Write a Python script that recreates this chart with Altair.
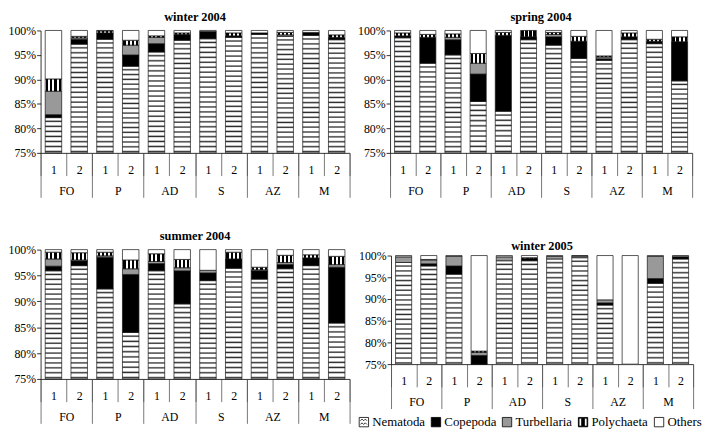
import altair as alt

# ---------------- data ----------------
SITES = ["FO", "P", "AD", "S", "AZ", "M"]
REPS = ["1", "2"]
CATS = ["Nematoda", "Copepoda", "Turbellaria", "Polychaeta", "Others"]
TITLES = ["winter 2004", "spring 2004", "summer 2004", "winter 2005"]

# order of bars: FO1 FO2 P1 P2 AD1 AD2 S1 S2 AZ1 AZ2 M1 M2  (percent)
W04_NEM = [82.2, 97.2, 98.2, 92.7, 95.6, 98.0, 98.3, 98.6, 99.2, 98.8, 99.0, 98.1]
W04_COP = [0.6, 1.0, 1.3, 2.3, 1.7, 1.2, 1.5, 0.3, 0.3, 0.0, 0.6, 0.5]
W04_TUR = [4.8, 0.3, 0.0, 2.0, 1.3, 0.0, 0.0, 0.0, 0.0, 0.3, 0.0, 0.0]
W04_POL = [2.5, 0.3, 0.4, 1.0, 0.3, 0.3, 0.0, 0.6, 0.0, 0.5, 0.0, 0.5]
W04_OTH = [9.9, 1.2, 0.1, 2.0, 1.1, 0.5, 0.2, 0.5, 0.5, 0.4, 0.4, 0.9]

S04_NEM = [98.5, 93.3, 95.0, 85.5, 83.5, 98.1, 97.0, 94.3, 93.9, 98.1, 97.3, 89.7]
S04_COP = [0.4, 5.3, 3.1, 5.6, 15.5, 0.6, 1.7, 3.5, 0.3, 0.6, 0.5, 8.0]
S04_TUR = [0.0, 0.0, 0.5, 2.2, 0.0, 0.0, 0.5, 0.0, 0.4, 0.0, 0.0, 0.0]
S04_POL = [0.6, 0.6, 0.7, 2.0, 0.6, 1.3, 0.4, 1.0, 0.2, 0.8, 0.4, 1.0]
S04_OTH = [0.5, 0.8, 0.7, 4.7, 0.4, 0.0, 0.4, 1.2, 5.2, 0.5, 1.8, 1.3]

U04_NEM = [95.9, 96.9, 92.4, 84.0, 95.9, 89.5, 94.0, 96.4, 94.3, 96.3, 96.9, 85.8]
U04_COP = [0.9, 0.9, 6.1, 11.2, 1.4, 6.4, 1.5, 1.8, 1.6, 0.8, 1.5, 10.8]
U04_TUR = [1.4, 0.2, 0.3, 1.1, 0.4, 0.6, 0.5, 0.0, 0.2, 0.4, 0.0, 0.5]
U04_POL = [1.3, 1.4, 0.7, 1.7, 1.5, 1.6, 0.0, 1.3, 0.5, 1.4, 0.6, 1.6]
U04_OTH = [0.5, 0.6, 0.5, 2.0, 0.8, 1.9, 4.0, 0.5, 3.4, 1.1, 1.0, 1.3]

W05_NEM = [98.4, 97.6, 95.7, 74.0, 98.8, 98.8, 99.2, 99.5, 88.6, 0.0, 93.6, 99.2]
W05_COP = [0.0, 0.5, 1.9, 3.0, 0.0, 0.5, 0.0, 0.0, 0.5, 0.0, 1.1, 0.5]
W05_TUR = [1.3, 0.9, 2.2, 0.7, 0.9, 0.0, 0.6, 0.4, 0.7, 0.0, 5.1, 0.3]
W05_POL = [0.0, 0.1, 0.0, 0.3, 0.0, 0.2, 0.0, 0.0, 0.0, 0.0, 0.0, 0.0]
W05_OTH = [0.3, 0.9, 0.2, 22.0, 0.3, 0.5, 0.2, 0.1, 10.2, 100.0, 0.2, 0.0]

SEASON_DATA = [
    [W04_NEM, W04_COP, W04_TUR, W04_POL, W04_OTH],
    [S04_NEM, S04_COP, S04_TUR, S04_POL, S04_OTH],
    [U04_NEM, U04_COP, U04_TUR, U04_POL, U04_OTH],
    [W05_NEM, W05_COP, W05_TUR, W05_POL, W05_OTH],
]

KEYS = [f"{s} {r}" for s in SITES for r in REPS]

# ---------------- styling helpers ----------------
FONT = "Liberation Serif"
Y_MIN, Y_MAX = 75, 100


def hstripes(n):
    """soft horizontal line texture (stands in for the zig-zag hatch)"""
    stops = []
    for i in range(n):
        stops += [
            {"offset": i / n, "color": "white"},
            {"offset": (i + 0.45) / n, "color": "white"},
            {"offset": (i + 0.75) / n, "color": "#2a2a2a"},
            {"offset": (i + 1) / n, "color": "white"},
        ]
    return {"gradient": "linear", "x1": 0, "y1": 0, "x2": 0, "y2": 1, "stops": stops}


def vstripes(k=4, half=0.065):
    stops = [{"offset": 0, "color": "white"}]
    for i in range(k):
        c = (i + 0.5) / k
        stops += [
            {"offset": c - half, "color": "white"},
            {"offset": c - half, "color": "black"},
            {"offset": c + half, "color": "black"},
            {"offset": c + half, "color": "white"},
        ]
    stops.append({"offset": 1, "color": "white"})
    return {"gradient": "linear", "x1": 0, "y1": 0, "x2": 1, "y2": 0, "stops": stops}


FLAT = {"Copepoda": "black", "Turbellaria": "#999999", "Others": "white"}


def build_rows(vals, ph):
    rows = []
    for j, key in enumerate(KEYS):
        cum = 0.0
        for ci, cat in enumerate(CATS):
            v = vals[ci][j]
            lo, hi = cum, cum + v
            cum = hi
            if v <= 0:
                continue
            if cat == "Nematoda":
                vis = max(0.0, hi - Y_MIN) / (Y_MAX - Y_MIN) * ph
                fill = hstripes(max(1, round(vis / 5.0)))
            elif cat == "Polychaeta":
                fill = vstripes()
            else:
                fill = FLAT[cat]
            rows.append({"key": key, "cat": cat, "lo": lo, "hi": hi, "fill": fill})
    return rows


SQ = "M-1,-1H1V1H-1Z"
LEG_SHAPES = [
    SQ + " M-0.75,-0.3L-0.4,-0.65L-0.05,-0.3L0.3,-0.65L0.65,-0.3 M-0.75,0.5L-0.4,0.15L-0.05,0.5L0.3,0.15L0.65,0.5",
    SQ,
    SQ,
    SQ + " M-0.85,-0.85V0.85H-0.3V-0.85Z M0.3,-0.85V0.85H0.85V-0.85Z",
    SQ,
]
LEG_FILLS = ["white", "black", "#999999", "black", "white"]
LEG_STROKES = ["black"] * 5


def panel(idx, w, h, title_offset, top_pad=0, title_dy=0, with_legend=False):
    rows = build_rows(SEASON_DATA[idx], h)
    x_axis = alt.Axis(
        title=None, labelExpr="slice(datum.label, -1)", tickBand="extent",
        tickSize=23, labelPadding=-6, labelBaseline="middle", labelAngle=0,
        tickColor="#555", domainColor="black", labelOverlap=False,
    )
    y_axis = alt.Axis(
        title=None, values=[75, 80, 85, 90, 95, 100], labelExpr="datum.value + '%'",
        tickSize=4, labelPadding=1, minExtent=33, maxExtent=33, domainColor="black",
    )
    full_h = h + top_pad
    bars = alt.Chart(alt.Data(values=rows)).mark_bar(
        stroke="#111", strokeWidth=0.7, width=alt.RelativeBandSize(0.64)
    ).encode(
        x=alt.X("key:N", sort=KEYS, scale=alt.Scale(paddingInner=0, paddingOuter=0), axis=x_axis),
        y=alt.Y("hi:Q", scale=alt.Scale(domain=[Y_MIN, Y_MAX], range=[full_h, top_pad], clamp=True,
                                        nice=False, zero=False), axis=y_axis),
        y2="lo:Q",
        color=alt.Color("fill:N", scale=None),
    )
    site_axis = alt.Axis(
        title=None, orient="bottom", tickBand="extent", tickSize=45, labelPadding=-7,
        labelBaseline="middle", domain=False, labelAngle=0, tickColor="#555",
    )
    sites = alt.Chart(alt.Data(values=[{"site": s} for s in SITES])).mark_point(opacity=0).encode(
        x=alt.X("site:N", sort=SITES, scale=alt.Scale(paddingInner=0, paddingOuter=0), axis=site_axis)
    )
    layers = [bars, sites]
    if with_legend:
        leg = alt.Legend(
            title=None, orient="none", legendX=-34, legendY=full_h + 52, direction="horizontal",
            symbolSize=90, symbolStrokeColor="black", symbolStrokeWidth=0.8, symbolOpacity=1,
            labelFont=FONT, labelFontSize=13, labelColor="black", labelOffset=2,
            columnPadding=4, padding=0,
        )
        legend_layer = alt.Chart(alt.Data(values=rows)).transform_filter("false").mark_point(
            filled=True, strokeWidth=0.8
        ).encode(
            fill=alt.Fill("cat:N", scale=alt.Scale(domain=CATS, range=LEG_FILLS), legend=leg),
            shape=alt.Shape("cat:N", scale=alt.Scale(domain=CATS, range=LEG_SHAPES), legend=leg),
            stroke=alt.Stroke("cat:N", scale=alt.Scale(domain=CATS, range=LEG_STROKES), legend=leg),
        )
        layers.append(legend_layer)
    return alt.layer(
        *layers, title=alt.TitleParams(TITLES[idx], offset=title_offset, dy=title_dy)
    ).resolve_scale(x="independent").properties(width=w, height=full_h)


top = alt.hconcat(panel(0, 313, 124, 1), panel(1, 306, 124, 1), spacing=7)
bottom = alt.hconcat(
    panel(2, 313, 131, 1), panel(3, 306, 110, 1, top_pad=6, title_dy=4, with_legend=True), spacing=7
).resolve_legend(fill="independent", shape="independent", stroke="independent")

chart = alt.vconcat(top, bottom, spacing=32).resolve_legend(
    fill="independent", shape="independent", stroke="independent"
).configure(
    padding={"left": 0, "right": 0, "top": 0, "bottom": 0}, font=FONT
).configure_view(stroke=None).configure_axis(
    labelFont=FONT, labelFontSize=12, labelColor="black", domainColor="black",
    tickColor="black", domainWidth=0.8, tickWidth=0.8, grid=False,
).configure_title(font=FONT, fontSize=12.5, fontWeight="bold", color="black")

chart.save("out.html", embed_options={"renderer": "svg", "actions": False})
